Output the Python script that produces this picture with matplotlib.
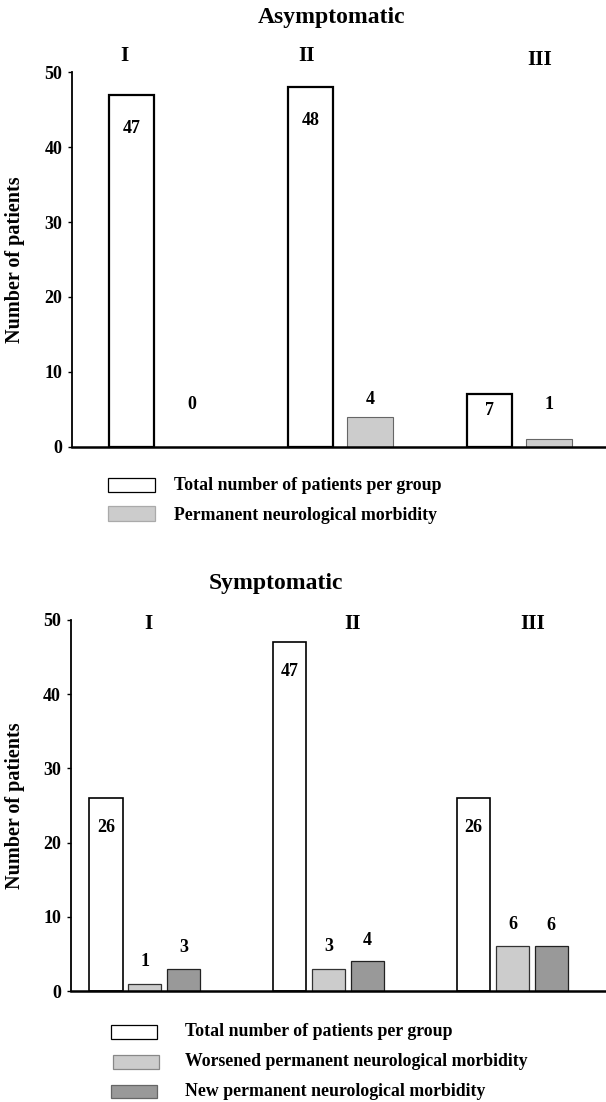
import matplotlib.pyplot as plt
from matplotlib.patches import Rectangle

plt.rcParams['font.family'] = ['Liberation Serif', 'DejaVu Serif']
plt.rcParams['font.weight'] = 'bold'

groups = ['I', 'II', 'III']

# Asymptomatic panel
asym_total = [47, 48, 7]
asym_morbidity = [0, 4, 1]

# Symptomatic panel
sym_total = [26, 47, 26]
sym_worsened = [1, 3, 6]
sym_new = [3, 4, 6]

legend_top = ['Total number of patients per group',
              'Permanent neurological morbidity']
legend_bottom = ['Total number of patients per group',
                 'Worsened permanent neurological morbidity',
                 'New permanent neurological morbidity']

W, H = 606, 1102
fig = plt.figure(figsize=(W / 100, H / 100), dpi=100)

light = '#cccccc'
dark = '#999999'


def style_axis(ax, xlim):
    ax.set_xlim(*xlim)
    ax.set_ylim(0, 50)
    ax.set_yticks([0, 10, 20, 30, 40, 50])
    ax.set_xticks([])
    ax.spines['top'].set_visible(False)
    ax.spines['right'].set_visible(False)
    ax.spines['left'].set_linewidth(1.3)
    ax.spines['bottom'].set_linewidth(1.8)
    ax.tick_params(axis='y', direction='out', length=3, width=1,
                   labelsize=13, pad=4)
    for lab in ax.get_yticklabels():
        lab.set_fontweight('bold')
    ax.set_ylabel('Number of patients', fontsize=14.5, fontweight='bold')


def legend_box(x, y, w, h, color, edge):
    # x, y in pixels from top-left
    fig.add_artist(Rectangle((x / W, 1 - (y + h) / H), w / W, h / H,
                             transform=fig.transFigure, facecolor=color,
                             edgecolor=edge, linewidth=0.9))


# ---------- top chart ----------
ax1 = fig.add_axes([72 / W, 1 - 446.7 / H, 1 - 72 / W, (446.7 - 72.3) / H])
pos = list(range(len(groups)))
ax1.bar(pos, asym_total, width=0.25, color='white', edgecolor='black',
        linewidth=1.6, zorder=2)
ax1.bar([p + 0.335 for p in pos], asym_morbidity, width=0.257, color=light,
        edgecolor='#666666', linewidth=0.8, zorder=2)
style_axis(ax1, (-0.332, 2.651))
ax1.yaxis.set_label_coords(-0.088, 0.5)

for p, v in zip(pos, asym_total):
    ax1.text(p, v - min(4.5, v * 0.3), str(v), ha='center', va='center',
             fontsize=13, fontweight='bold')
for p, v in zip(pos, asym_morbidity):
    ax1.text(p + 0.335, max(v + 2.3, 5.6), str(v), ha='center', va='center',
             fontsize=13, fontweight='bold')

for p, g, dx, y in zip(pos, groups, [-0.04, -0.02, 0.28], [50.8, 50.8, 50.3]):
    ax1.text(p + dx, y, g, ha='center', va='bottom', fontsize=15.5,
             fontweight='bold', clip_on=False)

fig.text(332 / W, 1 - 18 / H, 'Asymptomatic', ha='center', va='center',
         fontsize=17, fontweight='bold')

legend_box(108, 478, 47, 14, 'white', 'black')
legend_box(108, 506, 47, 15, light, '#aaaaaa')
for txt, yc in zip(legend_top, [486, 515]):
    fig.text(174 / W, 1 - yc / H, txt, ha='left', va='center',
             fontsize=12.8, fontweight='bold')

# ---------- bottom chart ----------
ax2 = fig.add_axes([70.7 / W, 1 - 991 / H, 1 - 70.7 / W, (991 - 620) / H])
ax2.bar(pos, sym_total, width=0.18, color='white', edgecolor='black',
        linewidth=1.2, zorder=2)
ax2.bar([p + 0.212 for p in pos], sym_worsened, width=0.18, color=light,
        edgecolor='#333333', linewidth=0.9, zorder=2)
ax2.bar([p + 0.422 for p in pos], sym_new, width=0.18, color=dark,
        edgecolor='#222222', linewidth=0.9, zorder=2)
style_axis(ax2, (-0.192, 2.721))
ax2.yaxis.set_label_coords(-0.085, 0.5)

for p, v in zip(pos, sym_total):
    ax2.text(p, v - min(4.0, v * 0.3), str(v), ha='center', va='center',
             fontsize=13, fontweight='bold')
for p, v in zip(pos, sym_worsened):
    ax2.text(p + 0.212, v + 3.0, str(v), ha='center', va='center',
             fontsize=13, fontweight='bold')
for p, v in zip(pos, sym_new):
    ax2.text(p + 0.422, v + 2.8, str(v), ha='center', va='center',
             fontsize=13, fontweight='bold')

for p, g, dx in zip(pos, groups, [0.23, 0.34, 0.32]):
    ax2.text(p + dx, 49.5, g, ha='center', va='center', fontsize=15.5,
             fontweight='bold', clip_on=False)

fig.text(276 / W, 1 - 584 / H, 'Symptomatic', ha='center', va='center',
         fontsize=17, fontweight='bold')

legend_box(111, 1025, 46, 14, 'white', 'black')
legend_box(113, 1055, 46, 14, light, '#888888')
legend_box(111, 1085, 46, 13, dark, '#666666')
for txt, yc in zip(legend_bottom, [1032, 1062, 1092]):
    fig.text(185 / W, 1 - yc / H, txt, ha='left', va='center',
             fontsize=12.8, fontweight='bold')

fig.savefig('out.png', dpi=100)
